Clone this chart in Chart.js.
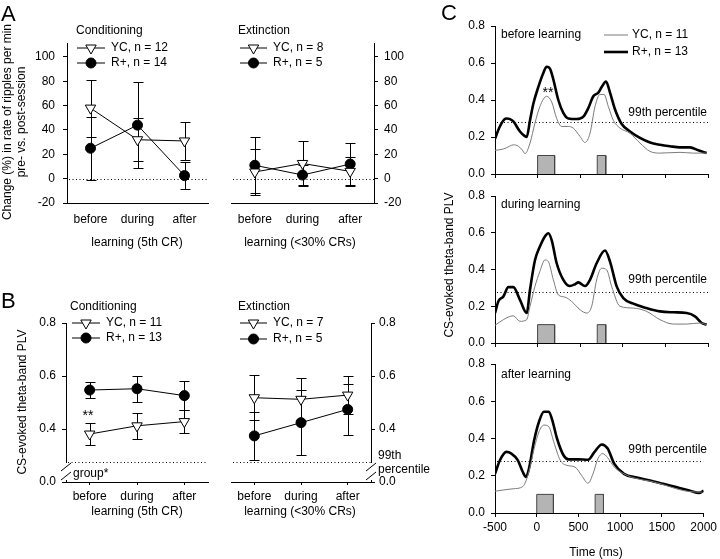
<!DOCTYPE html>
<html>
<head>
<meta charset="utf-8">
<script src="https://cdn.jsdelivr.net/npm/chart.js@4.4.0/dist/chart.umd.min.js"></script>
<style>
html, body { margin: 0; padding: 0; background: #fff; }
#fig { position: relative; width: 720px; height: 559px; overflow: hidden; background: #fff; }
#fig canvas { position: absolute; left: 0; top: 0; }
</style>
</head>
<body>
<div id="fig"></div>
<script>
'use strict'

// ---- data ----
const phases = ['before', 'during', 'after'];

// panel A: change (%) in ripple rate, mean and sem
const aCondYC = [58, 32, 31];
const aCondYCErr = [23.5, 17.5, 15.5];
const aCondRp = [25, 44, 2.5];
const aCondRpErr = [26, 35.5, 11];
const aExtYC = [5.5, 12.5, 6];
const aExtYCErr = [19, 18.5, 12];
const aExtRp = [11, 3, 12];
const aExtRpErr = [23, 8.5, 17];
const aTicks = [-20, 0, 20, 40, 60, 80, 100];

// panel B: CS-evoked theta-band PLV, mean and sem
const bCondYC = [0.381, 0.412, 0.428];
const bCondYCErr = [0.042, 0.05, 0.043];
const bCondRp = [0.547, 0.552, 0.526];
const bCondRpErr = [0.031, 0.049, 0.056];
const bExtYC = [0.518, 0.512, 0.528];
const bExtYCErr = [0.085, 0.082, 0.073];
const bExtRp = [0.374, 0.424, 0.474];
const bExtRpErr = [0.09, 0.123, 0.095];
const bTicks = [0.2, 0.4, 0.6, 0.8];           // bottom one sits at the axis break
const bTickLabels = ['0.0', '0.4', '0.6', '0.8'];
const bPercentile = 0.275;

const legendA1 = ['YC, n = 12', 'R+, n = 14'];
const legendA2 = ['YC, n = 8', 'R+, n = 5'];
const legendB1 = ['YC, n = 11', 'R+, n = 13'];
const legendB2 = ['YC, n = 7', 'R+, n = 5'];
const legendC = ['YC, n = 11', 'R+, n = 13'];

// panel C: PLV time courses, [time ms, PLV]
const cBeforeRp = [[-500,0.19],[-450,0.25],[-390,0.295],[-363,0.30],[-330,0.298],[-285,0.284],[-207,0.23],[-150,0.205],[-128,0.20],[-89,0.29],[-50,0.38],[8,0.47],[66,0.545],[106,0.58],[145,0.57],[185,0.51],[243,0.40],[302,0.33],[360,0.30],[458,0.297],[537,0.31],[595,0.356],[654,0.42],[713,0.44],[752,0.47],[803,0.50],[850,0.44],[908,0.35],[987,0.27],[1085,0.23],[1202,0.195],[1320,0.17],[1437,0.158],[1554,0.15],[1671,0.144],[1789,0.144],[1887,0.128],[1984,0.113]];
const cBeforeYC = [[-500,0.128],[-402,0.135],[-330,0.15],[-285,0.158],[-226,0.15],[-180,0.13],[-148,0.11],[-89,0.167],[-31,0.275],[27,0.365],[106,0.42],[165,0.39],[224,0.30],[282,0.257],[360,0.257],[419,0.248],[498,0.203],[556,0.17],[615,0.22],[674,0.365],[733,0.43],[780,0.43],[830,0.365],[889,0.29],[967,0.248],[1085,0.22],[1202,0.167],[1320,0.122],[1437,0.113],[1671,0.117],[1828,0.113],[1984,0.113]];
const cDuringRp = [[-500,0.163],[-460,0.227],[-402,0.253],[-343,0.304],[-285,0.304],[-207,0.235],[-128,0.163],[-89,0.29],[-31,0.45],[27,0.525],[86,0.58],[126,0.597],[165,0.56],[224,0.434],[302,0.344],[380,0.31],[440,0.32],[478,0.33],[556,0.31],[615,0.344],[693,0.434],[791,0.503],[850,0.443],[928,0.308],[1006,0.244],[1124,0.214],[1280,0.19],[1437,0.172],[1593,0.167],[1750,0.163],[1847,0.145],[1926,0.109],[1984,0.1]];
const cDuringYC = [[-500,0.096],[-402,0.127],[-285,0.148],[-207,0.118],[-128,0.127],[-89,0.2],[-31,0.308],[27,0.39],[86,0.452],[126,0.443],[185,0.344],[243,0.262],[321,0.25],[400,0.226],[498,0.181],[576,0.163],[635,0.2],[693,0.344],[752,0.407],[811,0.398],[869,0.308],[967,0.2],[1124,0.19],[1280,0.172],[1437,0.127],[1593,0.103],[1750,0.103],[1906,0.109],[1984,0.1]];
const cAfterRp = [[-500,0.21],[-441,0.283],[-363,0.328],[-304,0.319],[-226,0.283],[-167,0.22],[-128,0.193],[-89,0.247],[-31,0.39],[27,0.49],[86,0.544],[145,0.544],[185,0.5],[243,0.4],[321,0.31],[380,0.288],[498,0.288],[615,0.286],[693,0.328],[780,0.368],[850,0.346],[928,0.265],[1046,0.21],[1202,0.19],[1358,0.175],[1515,0.157],[1671,0.139],[1828,0.121],[1945,0.108],[2000,0.12]];
const cAfterYC = [[-500,0.117],[-285,0.13],[-167,0.142],[-89,0.229],[-31,0.346],[27,0.436],[86,0.472],[145,0.463],[204,0.382],[282,0.283],[360,0.256],[458,0.247],[537,0.202],[615,0.16],[674,0.21],[733,0.292],[791,0.319],[850,0.297],[928,0.247],[1046,0.21],[1202,0.184],[1358,0.171],[1515,0.153],[1671,0.13],[1828,0.115],[1984,0.112]];
const stimBlocks = [[0, 200], [700, 800]];   // CS and US windows (ms)
const stimHeight = 0.1;
const cPercentile = 0.28;
const cTicksX = [-500, 0, 500, 1000, 1500, 2000];
const cTicksY = [0, 0.2, 0.4, 0.6, 0.8];

// ---- drawing ----
const W = 720, H = 559;
const FAM = "'Liberation Sans', Arial, sans-serif";
const FONT = '12px ' + FAM;
const BIG = '22px ' + FAM;
Chart.defaults.font.family = FAM;
Chart.defaults.font.size = 12;
Chart.defaults.color = '#000';

const notes = {
  id: 'notes',
  afterDraw(chart, args, opts) {
    const ctx = chart.ctx;
    (opts.items || []).forEach(n => {
      ctx.save();
      ctx.font = n.font || FONT;
      ctx.fillStyle = '#000';
      ctx.textAlign = n.align || 'left';
      ctx.textBaseline = n.base || 'middle';
      ctx.translate(n.x, n.y);
      if (n.rot) ctx.rotate(n.rot);
      ctx.fillText(n.text, 0, 0);
      ctx.restore();
    });
  }
};

const refline = {
  id: 'refline',
  beforeDatasetsDraw(chart, args, opts) {
    if (opts.value === undefined || opts.value === null) return;
    const ctx = chart.ctx, ca = chart.chartArea;
    const y = Math.round(chart.scales.y.getPixelForValue(opts.value)) + 0.5;
    ctx.save();
    ctx.strokeStyle = '#000';
    ctx.lineWidth = 1;
    ctx.setLineDash([1, 2.5]);
    ctx.beginPath();
    ctx.moveTo(ca.left + 2, y);
    ctx.lineTo(ca.right, y);
    ctx.stroke();
    ctx.restore();
  }
};

const errbars = {
  id: 'errbars',
  beforeDatasetsDraw(chart) {
    const ctx = chart.ctx, ys = chart.scales.y;
    chart.data.datasets.forEach((ds, k) => {
      if (!ds.errors) return;
      const meta = chart.getDatasetMeta(k);
      ctx.save();
      ctx.strokeStyle = '#000';
      ctx.lineWidth = 1;
      ds.data.forEach((m, i) => {
        const x = Math.round(meta.data[i].x) + 0.5;
        const top = Math.round(ys.getPixelForValue(m + ds.errors[i])) + 0.5;
        const bot = Math.round(ys.getPixelForValue(m - ds.errors[i])) + 0.5;
        ctx.beginPath();
        ctx.moveTo(x, top); ctx.lineTo(x, bot);
        ctx.moveTo(x - 5, top); ctx.lineTo(x + 5, top);
        ctx.moveTo(x - 5, bot); ctx.lineTo(x + 5, bot);
        ctx.stroke();
      });
      ctx.restore();
    });
  }
};

const key = {
  id: 'key',
  afterDraw(chart, args, opts) {
    if (!opts.rows) return;
    const ctx = chart.ctx;
    opts.rows.forEach(r => {
      const ds = chart.data.datasets[r.ds];
      ctx.save();
      ctx.strokeStyle = ds.borderColor;
      ctx.lineWidth = ds.borderWidth;
      ctx.beginPath();
      ctx.moveTo(r.x0, r.y); ctx.lineTo(r.x1, r.y);
      ctx.stroke();
      if (ds.pointRadius) {
        ctx.fillStyle = ds.pointBackgroundColor;
        ctx.strokeStyle = ds.pointBorderColor;
        ctx.lineWidth = 1;
        Chart.helpers.drawPoint(ctx, { pointStyle: ds.pointStyle, rotation: ds.pointRotation || 0, radius: ds.pointRadius, borderWidth: 1 }, (r.x0 + r.x1) / 2, r.y);
      }
      ctx.font = FONT;
      ctx.fillStyle = '#000';
      ctx.textBaseline = 'middle';
      ctx.fillText(r.text, r.tx, r.y);
      ctx.restore();
    });
  }
};

// the //-mark on the broken y axis of panel B
const axisbreak = {
  id: 'axisbreak',
  afterDraw(chart, args, opts) {
    if (!opts.side) return;
    const ca = chart.chartArea, ctx = chart.ctx;
    const x = opts.side === 'left' ? ca.left : ca.right;
    ctx.save();
    ctx.fillStyle = '#fff';
    ctx.fillRect(x - 2, ca.bottom - 19, 4, 17);
    ctx.strokeStyle = '#000';
    ctx.lineWidth = 1;
    ctx.beginPath();
    [ca.bottom - 15, ca.bottom - 6].forEach(yy => {
      ctx.moveTo(x - 5, yy + 4); ctx.lineTo(x + 5, yy - 4);
    });
    ctx.stroke();
    ctx.restore();
  }
};

Chart.register(notes, refline, errbars, key, axisbreak);

function addCanvas() {
  const c = document.createElement('canvas');
  c.width = W; c.height = H;
  document.getElementById('fig').appendChild(c);
  return c;
}

const YW = 40, XH = 30;

function padFor(area, side) {
  if (side === 'right') return { left: area.l, right: W - area.r - YW, top: area.t, bottom: H - area.b - XH };
  return { left: area.l - YW, right: W - area.r, top: area.t, bottom: H - area.b - XH };
}

function groupChart(p) {
  const mk = (vals, errs, yc) => yc ? {
    data: vals, errors: errs, borderColor: '#000', borderWidth: 1, tension: 0,
    pointStyle: 'triangle', pointRotation: 180, pointRadius: 6,
    pointBackgroundColor: '#fff', pointBorderColor: '#000', pointBorderWidth: 1, clip: false
  } : {
    data: vals, errors: errs, borderColor: '#000', borderWidth: 1, tension: 0,
    pointStyle: 'circle', pointRadius: 5,
    pointBackgroundColor: '#000', pointBorderColor: '#000', pointBorderWidth: 1, clip: false
  };
  return new Chart(addCanvas(), {
    type: 'line',
    data: { labels: phases, datasets: [mk(p.yc, p.ycErr, true), mk(p.rp, p.rpErr, false)] },
    options: {
      responsive: false, animation: false, devicePixelRatio: 1,
      layout: { padding: padFor(p.area, p.side) },
      scales: {
        x: {
          type: 'category', offset: true,
          afterFit: s => { s.height = XH; },
          ticks: { padding: p.xPad, font: { size: 12 }, maxRotation: 0 },
          grid: { drawOnChartArea: false, drawTicks: p.xTicks, tickLength: 3, color: '#000' },
          border: { color: '#000' }
        },
        y: {
          position: p.side, min: p.yMin, max: p.yMax,
          afterBuildTicks: s => { s.ticks = p.yTicks.map(v => ({ value: v })); },
          afterFit: s => { s.width = YW; },
          ticks: { padding: p.yPad, callback: p.yFmt, font: { size: 12 } },
          grid: { drawOnChartArea: false, tickLength: 4, color: '#000' },
          border: { color: '#000' }
        }
      },
      plugins: {
        legend: { display: false }, tooltip: { enabled: false },
        refline: { value: p.ref },
        axisbreak: { side: p.brk },
        key: { rows: p.key },
        notes: { items: p.notes }
      }
    }
  });
}

const rot = -Math.PI / 2;

// panel A, conditioning
groupChart({
  area: { l: 67, r: 208, t: 43, b: 203 }, side: 'left',
  yc: aCondYC, ycErr: aCondYCErr, rp: aCondRp, rpErr: aCondRpErr,
  yMin: -20, yMax: 111.5, yTicks: aTicks, yFmt: v => String(v), yPad: 8,
  xPad: 9, xTicks: false, ref: 0,
  key: [
    { ds: 0, x0: 77, x1: 105, y: 48, tx: 111, text: legendA1[0] },
    { ds: 1, x0: 77, x1: 105, y: 63, tx: 111, text: legendA1[1] }
  ],
  notes: [
    { text: 'A', x: 1, y: 21, font: BIG, base: 'alphabetic' },
    { text: 'Change (%) in rate of ripples per min', x: 8, y: 122, rot: rot, align: 'center' },
    { text: 'pre- vs. post-session', x: 22, y: 122, rot: rot, align: 'center' },
    { text: 'Conditioning', x: 76, y: 31 },
    { text: 'learning (5th CR)', x: 137, y: 243, align: 'center' }
  ]
});

// panel A, extinction
groupChart({
  area: { l: 231, r: 374, t: 43, b: 203 }, side: 'right',
  yc: aExtYC, ycErr: aExtYCErr, rp: aExtRp, rpErr: aExtRpErr,
  yMin: -20, yMax: 111.5, yTicks: aTicks, yFmt: v => String(v), yPad: 6,
  xPad: 9, xTicks: false, ref: 0,
  key: [
    { ds: 0, x0: 240, x1: 267, y: 48, tx: 273, text: legendA2[0] },
    { ds: 1, x0: 240, x1: 267, y: 63, tx: 273, text: legendA2[1] }
  ],
  notes: [
    { text: 'Extinction', x: 238, y: 31 },
    { text: 'learning (<30% CRs)', x: 300, y: 243, align: 'center' }
  ]
});

const bFmt = v => bTickLabels[bTicks.indexOf(v)];

// panel B, conditioning
groupChart({
  area: { l: 66, r: 208, t: 323, b: 482 }, side: 'left',
  yc: bCondYC, ycErr: bCondYCErr, rp: bCondRp, rpErr: bCondRpErr,
  yMin: 0.2, yMax: 0.8, yTicks: bTicks, yFmt: bFmt, yPad: 6,
  xPad: 4, xTicks: true, ref: bPercentile, brk: 'left',
  key: [
    { ds: 0, x0: 72, x1: 100, y: 323, tx: 106, text: legendB1[0] },
    { ds: 1, x0: 72, x1: 100, y: 338, tx: 106, text: legendB1[1] }
  ],
  notes: [
    { text: 'B', x: 1, y: 308, font: BIG, base: 'alphabetic' },
    { text: 'CS-evoked theta-band PLV', x: 23, y: 402, rot: rot, align: 'center' },
    { text: 'Conditioning', x: 70, y: 307 },
    { text: '**', x: 88, y: 416, align: 'center', font: '14px ' + FAM },
    { text: 'group*', x: 73, y: 474 },
    { text: 'learning (5th CR)', x: 137, y: 512, align: 'center' }
  ]
});

// panel B, extinction
groupChart({
  area: { l: 231, r: 371, t: 323, b: 482 }, side: 'right',
  yc: bExtYC, ycErr: bExtYCErr, rp: bExtRp, rpErr: bExtRpErr,
  yMin: 0.2, yMax: 0.8, yTicks: bTicks, yFmt: bFmt, yPad: 4,
  xPad: 4, xTicks: true, ref: bPercentile, brk: 'right',
  key: [
    { ds: 0, x0: 240, x1: 267, y: 323, tx: 273, text: legendB2[0] },
    { ds: 1, x0: 240, x1: 267, y: 339, tx: 273, text: legendB2[1] }
  ],
  notes: [
    { text: 'Extinction', x: 238, y: 307 },
    { text: '99th', x: 378, y: 456 },
    { text: 'percentile', x: 378, y: 470 },
    { text: 'learning (<30% CRs)', x: 300, y: 512, align: 'center' }
  ]
});

// panel C
function traceChart(p) {
  const pts = arr => arr.map(d => ({ x: d[0], y: d[1] }));
  const blocks = stimBlocks.map(b => ({
    data: [{ x: b[0], y: 0 }, { x: b[0], y: stimHeight }, { x: b[1], y: stimHeight }, { x: b[1], y: 0 }],
    borderColor: '#444', borderWidth: 1, backgroundColor: '#b4b4b4',
    fill: 'origin', pointRadius: 0, tension: 0
  }));
  return new Chart(addCanvas(), {
    type: 'line',
    data: {
      datasets: blocks.concat([
        { data: pts(p.yc), borderColor: '#7a7a7a', borderWidth: 1, pointRadius: 0, cubicInterpolationMode: 'monotone', fill: false },
        { data: pts(p.rp), borderColor: '#000', borderWidth: 2.6, pointRadius: 0, cubicInterpolationMode: 'monotone', fill: false }
      ])
    },
    options: {
      responsive: false, animation: false, devicePixelRatio: 1,
      layout: { padding: padFor(p.area, 'left') },
      scales: {
        x: {
          type: 'linear', min: -500, max: 2000,
          afterBuildTicks: s => { s.ticks = cTicksX.map(v => ({ value: v })); },
          afterFit: s => { s.height = XH; },
          ticks: { display: p.showX, padding: 3, maxRotation: 0, font: { size: 12 }, callback: v => String(v) },
          grid: { drawOnChartArea: false, tickLength: 4, color: '#000' },
          border: { color: '#000' }
        },
        y: {
          min: 0, max: 0.8,
          afterBuildTicks: s => { s.ticks = cTicksY.map(v => ({ value: v })); },
          afterFit: s => { s.width = YW; },
          ticks: { padding: 6, callback: v => v.toFixed(1), font: { size: 12 } },
          grid: { drawOnChartArea: false, tickLength: 4, color: '#000' },
          border: { color: '#000' }
        }
      },
      plugins: {
        legend: { display: false }, tooltip: { enabled: false },
        refline: { value: cPercentile },
        key: { rows: p.key },
        notes: { items: p.notes }
      }
    }
  });
}

traceChart({
  area: { l: 495, r: 708, t: 26, b: 174 }, yc: cBeforeYC, rp: cBeforeRp, showX: false,
  key: [
    { ds: 2, x0: 604, x1: 628, y: 35, tx: 632, text: legendC[0] },
    { ds: 3, x0: 604, x1: 628, y: 52, tx: 632, text: legendC[1] }
  ],
  notes: [
    { text: 'C', x: 441, y: 20, font: BIG, base: 'alphabetic' },
    { text: 'before learning', x: 501, y: 35 },
    { text: '**', x: 548, y: 93, align: 'center', font: '14px ' + FAM },
    { text: '99th percentile', x: 707, y: 113, align: 'right' }
  ]
});

traceChart({
  area: { l: 495, r: 708, t: 196, b: 343 }, yc: cDuringYC, rp: cDuringRp, showX: false,
  notes: [
    { text: 'during learning', x: 501, y: 205 },
    { text: '99th percentile', x: 707, y: 280, align: 'right' },
    { text: 'CS-evoked theta-band PLV', x: 450, y: 265, rot: rot, align: 'center' }
  ]
});

traceChart({
  area: { l: 495, r: 708, t: 364, b: 513 }, yc: cAfterYC, rp: cAfterRp, showX: true,
  notes: [
    { text: 'after learning', x: 501, y: 375 },
    { text: '99th percentile', x: 707, y: 450, align: 'right' },
    { text: 'Time (ms)', x: 596, y: 553, align: 'center' }
  ]
});
</script>
</body>
</html>
